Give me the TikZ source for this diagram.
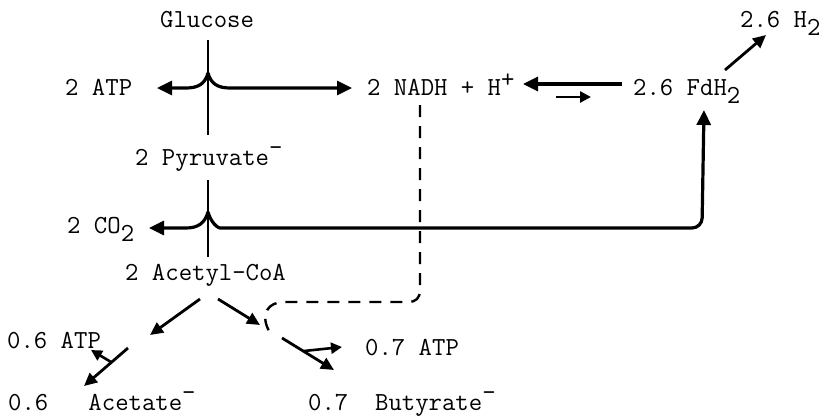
\documentclass[tikz,border=0pt]{standalone}
\usetikzlibrary{arrows.meta}
\newcommand{\lowtwo}{\raisebox{-8pt}{2}}
\newcommand{\upminus}{\raisebox{10pt}{-}}
\newcommand{\upplus}{\raisebox{8pt}{+}}
\begin{document}
\begin{tikzpicture}[x=1pt,y=-1pt,
  lbl/.style={anchor=base west, inner sep=0pt, font=\fontsize{26}{30}\selectfont\ttfamily},
  stem/.style={line width=2.2pt},
  bigarrow/.style={line width=3.2pt, -{Triangle[length=15pt,width=14pt]}},
  midarrow/.style={line width=2.8pt, -{Triangle[length=13pt,width=12pt]}},
  smallarrow/.style={line width=2.6pt, -{Triangle[length=11pt,width=11pt]}},
  dashline/.style={line width=2.4pt, dash pattern=on 12pt off 9pt}]
\useasboundingbox (0,0) rectangle (820,416);
% labels
\node[lbl] (glu) at (160,27) {Glucose};
\node[lbl] (atp1) at (65,95) {2 ATP};
\node[lbl] (nadh) at (367,95) {2 NADH + H\upplus};
\node[lbl] (fdh) at (633,95) {2.6 FdH\lowtwo};
\node[lbl] (h2) at (740,27) {2.6 H\lowtwo};
\node[lbl] (pyr) at (135,165) {2 Pyruvate\upminus};
\node[lbl] (co2) at (67,233) {2 CO\lowtwo};
\node[lbl] (acoa) at (125,280) {2 Acetyl-CoA};
\node[lbl] (atp2) at (7,348) {0.6 ATP};
\node[lbl] (ace) at (8,410) {0.6\ \ \ Acetate\upminus};
\node[lbl] (atp3) at (365,355) {0.7 ATP};
\node[lbl] (but) at (308,410) {0.7\ \ Butyrate\upminus};
% coordinates
\coordinate (g0) at (208,40);
\coordinate (g1) at (208,135);
\coordinate (gj) at (208,73);
\coordinate (atpT) at (157,88);
\coordinate (nadT) at (352,88);
\coordinate (p0) at (208,180);
\coordinate (p1) at (208,257);
\coordinate (pj) at (208,212);
\coordinate (co2T) at (149,228);
\coordinate (fdT) at (704,110);
\coordinate (fdS) at (622,84);
\coordinate (nadS) at (523,84);
\coordinate (rs) at (556,97);
\coordinate (re) at (591,97);
\coordinate (h2s) at (725,70);
\coordinate (h2e) at (766,35);
\coordinate (d0) at (420,105);
\coordinate (d1) at (269,331);
\coordinate (a1s) at (200,299);
\coordinate (a1e) at (150,335);
\coordinate (a2s) at (218,299);
\coordinate (a2e) at (260,325);
\coordinate (c1s) at (128,348);
\coordinate (c1e) at (84,386);
\coordinate (c1b) at (111,362);
\coordinate (c1t) at (91,350);
\coordinate (b1s) at (282,338);
\coordinate (b1e) at (334,370);
\coordinate (b1b) at (304,351);
\coordinate (b1t) at (342,347);
% glucose -> pyruvate
\draw[stem] (g0) -- (g1);
\draw[bigarrow] (gj) .. controls (205,84) and (198,88) .. (186,88) -- (atpT);
\draw[bigarrow] (gj) .. controls (211,84) and (218,88) .. (230,88) -- (nadT);
% pyruvate -> acetyl-CoA
\draw[stem] (p0) -- (p1);
\draw[bigarrow] (pj) .. controls (205,223) and (198,228) .. (186,228) -- (co2T);
\draw[bigarrow, rounded corners=10pt] (pj) .. controls (211,223) and (218,228) .. (230,228) -- (702,228) -- (fdT);
% NADH / FdH2
\draw[bigarrow] (fdS) -- (nadS);
\draw[smallarrow] (rs) -- (re);
\draw[midarrow] (h2s) -- (h2e);
% dashed NADH path
\draw[dashline] (d0) -- (420,290) .. controls (420,298) and (416,302) .. (408,302) -- (284,302) .. controls (268,302) and (260,314) .. (d1);
% acetyl-CoA branches
\draw[midarrow] (a1s) -- (a1e);
\draw[midarrow] (a2s) -- (a2e);
\draw[midarrow] (c1s) -- (c1e);
\draw[smallarrow] (c1b) -- (c1t);
\draw[midarrow] (b1s) -- (b1e);
\draw[smallarrow] (b1b) -- (b1t);
\end{tikzpicture}
\end{document}
